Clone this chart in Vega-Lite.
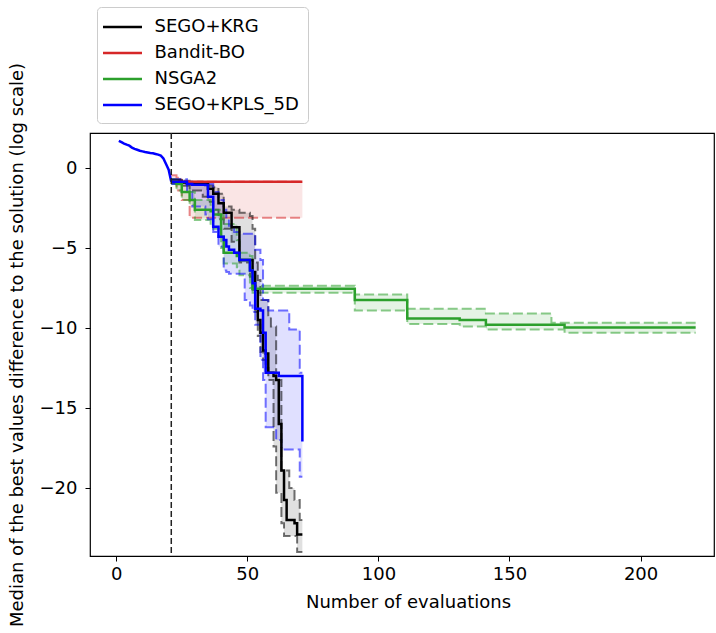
{
  "$schema": "https://vega.github.io/schema/vega-lite/v6.json",
  "width": 624,
  "height": 423,
  "autosize": {"type": "none"},
  "padding": {"left": 90, "top": 133, "right": 2, "bottom": 77},
  "config": {
    "font": "DejaVu Sans",
    "view": {"stroke": "#000", "strokeWidth": 1.2}
  },
  "datasets": {
    "m": [
      {"s": "SEGO+KRG", "x": 21, "med": -0.8, "lo": -0.95, "hi": -0.7},
      {"s": "SEGO+KRG", "x": 25, "med": -0.9, "lo": -1.1, "hi": -0.8},
      {"s": "SEGO+KRG", "x": 28, "med": -1.0, "lo": -1.4, "hi": -0.85},
      {"s": "SEGO+KRG", "x": 33, "med": -1.0, "lo": -1.8, "hi": -0.95},
      {"s": "SEGO+KRG", "x": 35, "med": -1.3, "lo": -2.1, "hi": -1.1},
      {"s": "SEGO+KRG", "x": 37, "med": -1.6, "lo": -2.6, "hi": -1.2},
      {"s": "SEGO+KRG", "x": 39, "med": -2.2, "lo": -3.2, "hi": -1.6},
      {"s": "SEGO+KRG", "x": 41, "med": -2.8, "lo": -3.8, "hi": -2.4},
      {"s": "SEGO+KRG", "x": 44, "med": -3.7, "lo": -4.6, "hi": -2.6},
      {"s": "SEGO+KRG", "x": 47, "med": -5.75, "lo": -5.9, "hi": -2.8},
      {"s": "SEGO+KRG", "x": 51, "med": -5.75, "lo": -6.8, "hi": -3.0},
      {"s": "SEGO+KRG", "x": 52, "med": -6.5, "lo": -7.6, "hi": -3.8},
      {"s": "SEGO+KRG", "x": 53, "med": -7.6, "lo": -9.0, "hi": -5.9},
      {"s": "SEGO+KRG", "x": 54, "med": -9.5, "lo": -10.5, "hi": -7.0},
      {"s": "SEGO+KRG", "x": 55, "med": -10.3, "lo": -11.5, "hi": -8.25},
      {"s": "SEGO+KRG", "x": 56, "med": -11.4, "lo": -12.0, "hi": -8.25},
      {"s": "SEGO+KRG", "x": 57, "med": -11.6, "lo": -12.5, "hi": -8.25},
      {"s": "SEGO+KRG", "x": 58, "med": -12.8, "lo": -13.25, "hi": -9.3},
      {"s": "SEGO+KRG", "x": 59, "med": -12.8, "lo": -13.25, "hi": -9.9},
      {"s": "SEGO+KRG", "x": 60, "med": -13.0, "lo": -17.4, "hi": -9.9},
      {"s": "SEGO+KRG", "x": 61, "med": -13.25, "lo": -20.3, "hi": -13.25},
      {"s": "SEGO+KRG", "x": 62, "med": -16.0, "lo": -20.3, "hi": -13.25},
      {"s": "SEGO+KRG", "x": 63, "med": -18.9, "lo": -22.2, "hi": -18.9},
      {"s": "SEGO+KRG", "x": 64, "med": -20.75, "lo": -23.0, "hi": -18.9},
      {"s": "SEGO+KRG", "x": 65, "med": -22.0, "lo": -23.0, "hi": -18.9},
      {"s": "SEGO+KRG", "x": 66, "med": -22.0, "lo": -23.0, "hi": -20.0},
      {"s": "SEGO+KRG", "x": 68, "med": -22.2, "lo": -23.0, "hi": -20.75},
      {"s": "SEGO+KRG", "x": 69, "med": -22.9, "lo": -24.0, "hi": -20.75},
      {"s": "SEGO+KRG", "x": 70, "med": -22.9, "lo": -24.0, "hi": -22.0},
      {"s": "SEGO+KRG", "x": 71, "med": -22.9, "lo": -24.0, "hi": -22.0},
      {"s": "Bandit-BO", "x": 21, "med": -0.85, "lo": -0.9, "hi": -0.45},
      {"s": "Bandit-BO", "x": 23, "med": -0.85, "lo": -1.4, "hi": -0.6},
      {"s": "Bandit-BO", "x": 25, "med": -0.85, "lo": -2.0, "hi": -0.85},
      {"s": "Bandit-BO", "x": 28, "med": -0.85, "lo": -3.1, "hi": -0.85},
      {"s": "Bandit-BO", "x": 71, "med": -0.85, "lo": -3.1, "hi": -0.85},
      {"s": "NSGA2", "x": 21, "med": -0.85, "lo": -1.0, "hi": -0.7},
      {"s": "NSGA2", "x": 23, "med": -1.0, "lo": -1.4, "hi": -0.85},
      {"s": "NSGA2", "x": 25, "med": -1.5, "lo": -2.0, "hi": -0.9},
      {"s": "NSGA2", "x": 28, "med": -2.0, "lo": -2.3, "hi": -1.5},
      {"s": "NSGA2", "x": 30, "med": -2.6, "lo": -3.25, "hi": -2.0},
      {"s": "NSGA2", "x": 36, "med": -2.7, "lo": -3.67, "hi": -2.3},
      {"s": "NSGA2", "x": 37, "med": -2.9, "lo": -3.8, "hi": -2.6},
      {"s": "NSGA2", "x": 40, "med": -4.3, "lo": -5.0, "hi": -2.9},
      {"s": "NSGA2", "x": 41, "med": -5.3, "lo": -5.96, "hi": -3.5},
      {"s": "NSGA2", "x": 46, "med": -5.5, "lo": -6.2, "hi": -4.5},
      {"s": "NSGA2", "x": 47, "med": -5.75, "lo": -6.7, "hi": -5.3},
      {"s": "NSGA2", "x": 51, "med": -6.4, "lo": -7.5, "hi": -5.5},
      {"s": "NSGA2", "x": 52, "med": -7.55, "lo": -7.8, "hi": -7.35},
      {"s": "NSGA2", "x": 91, "med": -8.25, "lo": -8.9, "hi": -7.9},
      {"s": "NSGA2", "x": 111, "med": -9.4, "lo": -9.75, "hi": -8.8},
      {"s": "NSGA2", "x": 131, "med": -9.5, "lo": -9.9, "hi": -8.8},
      {"s": "NSGA2", "x": 141, "med": -9.8, "lo": -10.1, "hi": -9.1},
      {"s": "NSGA2", "x": 166, "med": -9.8, "lo": -10.1, "hi": -9.67},
      {"s": "NSGA2", "x": 171, "med": -9.96, "lo": -10.3, "hi": -9.67},
      {"s": "NSGA2", "x": 221, "med": -9.96, "lo": -10.3, "hi": -9.67},
      {"s": "SEGO+KPLS_5D", "x": 21, "med": -0.85, "lo": -1.0, "hi": -0.7},
      {"s": "SEGO+KPLS_5D", "x": 27, "med": -1.0, "lo": -1.5, "hi": -0.85},
      {"s": "SEGO+KPLS_5D", "x": 29, "med": -1.05, "lo": -2.4, "hi": -0.9},
      {"s": "SEGO+KPLS_5D", "x": 34, "med": -1.06, "lo": -2.9, "hi": -0.95},
      {"s": "SEGO+KPLS_5D", "x": 35, "med": -1.8, "lo": -3.2, "hi": -1.0},
      {"s": "SEGO+KPLS_5D", "x": 37, "med": -3.67, "lo": -4.0, "hi": -1.5},
      {"s": "SEGO+KPLS_5D", "x": 39, "med": -4.3, "lo": -4.9, "hi": -2.0},
      {"s": "SEGO+KPLS_5D", "x": 41, "med": -4.5, "lo": -6.4, "hi": -2.6},
      {"s": "SEGO+KPLS_5D", "x": 42, "med": -4.9, "lo": -6.5, "hi": -3.2},
      {"s": "SEGO+KPLS_5D", "x": 43, "med": -5.1, "lo": -6.6, "hi": -3.6},
      {"s": "SEGO+KPLS_5D", "x": 45, "med": -5.3, "lo": -6.6, "hi": -4.0},
      {"s": "SEGO+KPLS_5D", "x": 47, "med": -5.75, "lo": -6.6, "hi": -4.1},
      {"s": "SEGO+KPLS_5D", "x": 49, "med": -5.75, "lo": -8.25, "hi": -4.1},
      {"s": "SEGO+KPLS_5D", "x": 51, "med": -6.4, "lo": -8.6, "hi": -4.1},
      {"s": "SEGO+KPLS_5D", "x": 52, "med": -7.2, "lo": -9.0, "hi": -4.1},
      {"s": "SEGO+KPLS_5D", "x": 53, "med": -8.8, "lo": -9.8, "hi": -5.1},
      {"s": "SEGO+KPLS_5D", "x": 55, "med": -8.9, "lo": -12.0, "hi": -5.75},
      {"s": "SEGO+KPLS_5D", "x": 56, "med": -10.3, "lo": -13.25, "hi": -8.25},
      {"s": "SEGO+KPLS_5D", "x": 57, "med": -12.8, "lo": -16.2, "hi": -8.25},
      {"s": "SEGO+KPLS_5D", "x": 58, "med": -12.8, "lo": -16.2, "hi": -8.9},
      {"s": "SEGO+KPLS_5D", "x": 61, "med": -12.8, "lo": -17.0, "hi": -8.9},
      {"s": "SEGO+KPLS_5D", "x": 62, "med": -13.0, "lo": -17.0, "hi": -8.9},
      {"s": "SEGO+KPLS_5D", "x": 63, "med": -13.0, "lo": -17.6, "hi": -8.9},
      {"s": "SEGO+KPLS_5D", "x": 66, "med": -13.0, "lo": -17.6, "hi": -10.1},
      {"s": "SEGO+KPLS_5D", "x": 70, "med": -13.0, "lo": -19.3, "hi": -12.8},
      {"s": "SEGO+KPLS_5D", "x": 71, "med": -17.1, "lo": -19.3, "hi": -12.8}
    ],
    "doe": [
      {"s": "SEGO+KPLS_5D", "x": 1, "v": 1.7},
      {"s": "SEGO+KPLS_5D", "x": 2, "v": 1.62},
      {"s": "SEGO+KPLS_5D", "x": 3, "v": 1.53},
      {"s": "SEGO+KPLS_5D", "x": 4, "v": 1.46},
      {"s": "SEGO+KPLS_5D", "x": 5, "v": 1.4},
      {"s": "SEGO+KPLS_5D", "x": 6, "v": 1.28},
      {"s": "SEGO+KPLS_5D", "x": 7, "v": 1.2},
      {"s": "SEGO+KPLS_5D", "x": 8, "v": 1.14},
      {"s": "SEGO+KPLS_5D", "x": 9, "v": 1.08},
      {"s": "SEGO+KPLS_5D", "x": 10, "v": 1.04},
      {"s": "SEGO+KPLS_5D", "x": 11, "v": 1.0},
      {"s": "SEGO+KPLS_5D", "x": 12, "v": 0.97},
      {"s": "SEGO+KPLS_5D", "x": 13, "v": 0.94},
      {"s": "SEGO+KPLS_5D", "x": 14, "v": 0.92},
      {"s": "SEGO+KPLS_5D", "x": 15, "v": 0.88},
      {"s": "SEGO+KPLS_5D", "x": 16, "v": 0.84},
      {"s": "SEGO+KPLS_5D", "x": 17, "v": 0.78},
      {"s": "SEGO+KPLS_5D", "x": 18, "v": 0.6},
      {"s": "SEGO+KPLS_5D", "x": 19, "v": 0.25},
      {"s": "SEGO+KPLS_5D", "x": 20, "v": -0.1},
      {"s": "SEGO+KPLS_5D", "x": 21, "v": -0.85}
    ],
    "vline": [{"x": 21}]
  },
  "encoding": {
    "x": {
      "field": "x", "type": "quantitative",
      "scale": {"domain": [-10, 228], "nice": false, "zero": false},
      "axis": {
        "values": [0, 50, 100, 150, 200], "title": "Number of evaluations",
        "grid": false, "domain": false, "tickSize": 5, "tickColor": "#000",
        "labelFontSize": 18, "labelColor": "#000", "labelPadding": 4,
        "titleFontSize": 18, "titleFontWeight": "normal", "titleColor": "#000",
        "titleX": 318, "titleY": 51, "titleBaseline": "alphabetic", "titleAlign": "center"
      }
    }
  },
  "layer": [
    {
      "data": {"name": "m"},
      "mark": {"type": "area", "interpolate": "step-after", "fillOpacity": 0.12},
      "encoding": {
        "y": {
          "field": "lo", "type": "quantitative",
          "title": "Median of the best values difference to the solution (log scale)",
          "scale": {"domain": [-24.25, 2.19], "nice": false, "zero": false},
          "axis": {
            "values": [0, -5, -10, -15, -20],
            "title": "Median of the best values difference to the solution (log scale)",
            "grid": false, "domain": false, "tickSize": 5, "tickColor": "#000",
            "labelFontSize": 18, "labelColor": "#000", "labelPadding": 8,
            "titleFontSize": 18, "titleFontWeight": "normal", "titleColor": "#000",
            "titleX": -73, "titleY": 211.5, "titleAngle": 270,
            "titleAlign": "center", "titleBaseline": "middle"
          }
        },
        "y2": {"field": "hi"},
        "fill": {
          "field": "s", "type": "nominal",
          "scale": {"domain": ["Bandit-BO", "NSGA2", "SEGO+KPLS_5D", "SEGO+KRG"], "range": ["#d62728", "#2ca02c", "#0000ff", "#000000"]},
          "legend": null
        }
      }
    },
    {
      "data": {"name": "m"},
      "mark": {"type": "line", "interpolate": "step-after", "strokeDash": [10, 4], "strokeWidth": 2, "opacity": 0.55},
      "encoding": {
        "y": {"field": "lo", "type": "quantitative", "title": "Median of the best values difference to the solution (log scale)"},
        "stroke": {
          "field": "s", "type": "nominal",
          "scale": {"domain": ["NSGA2", "SEGO+KPLS_5D", "SEGO+KRG", "Bandit-BO"], "range": ["#2ca02c", "#0000ff", "#000000", "#d62728"]},
          "legend": null
        }
      }
    },
    {
      "data": {"name": "m"},
      "mark": {"type": "line", "interpolate": "step-after", "strokeDash": [10, 4], "strokeWidth": 2, "opacity": 0.55},
      "encoding": {
        "y": {"field": "hi", "type": "quantitative", "title": "Median of the best values difference to the solution (log scale)"},
        "stroke": {"field": "s", "type": "nominal", "legend": null}
      }
    },
    {
      "data": {"name": "m"},
      "mark": {"type": "line", "interpolate": "step-after", "strokeWidth": 2.5},
      "encoding": {
        "y": {"field": "med", "type": "quantitative", "title": "Median of the best values difference to the solution (log scale)"},
        "color": {
          "field": "s", "type": "nominal",
          "scale": {"domain": ["SEGO+KRG", "Bandit-BO", "NSGA2", "SEGO+KPLS_5D"], "range": ["#000000", "#d62728", "#2ca02c", "#0000ff"]},
          "legend": {
            "title": null, "orient": "none", "legendX": 7, "legendY": -126,
            "labelFontSize": 18, "labelColor": "#000", "symbolType": "M-2,0H2", "symbolSize": 380,
            "symbolStrokeWidth": 2.5, "symbolOpacity": 1, "symbolOffset": 5.5,
            "strokeColor": "#cccccc", "cornerRadius": 4,
            "padding": 9, "rowPadding": 6, "labelOffset": 21, "fillColor": "#ffffff"
          }
        }
      }
    },
    {
      "data": {"name": "doe"},
      "mark": {"type": "line", "strokeWidth": 2.5},
      "encoding": {
        "y": {"field": "v", "type": "quantitative", "title": "Median of the best values difference to the solution (log scale)"},
        "color": {"field": "s", "type": "nominal"}
      }
    },
    {
      "data": {"name": "vline"},
      "mark": {"type": "rule", "color": "#222222", "strokeWidth": 1.5, "strokeDash": [6, 3]},
      "encoding": {}
    }
  ]
}
